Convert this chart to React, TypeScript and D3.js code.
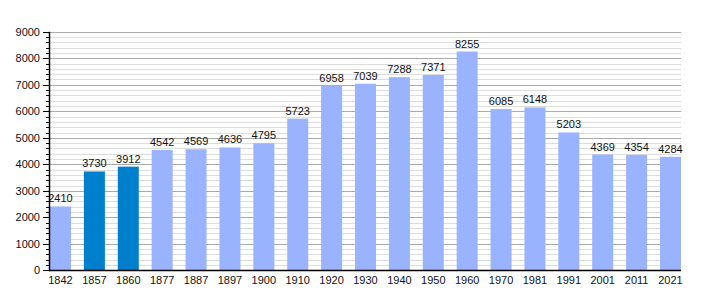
import React from "react";
import * as d3 from "d3";

const years = ["1842","1857","1860","1877","1887","1897","1900","1910","1920","1930","1940","1950","1960","1970","1981","1991","2001","2011","2021"];
const populations = [2410,3730,3912,4542,4569,4636,4795,5723,6958,7039,7288,7371,8255,6085,6148,5203,4369,4354,4284];
const highlighted = ["1857","1860"];
const yTicks = [0,1000,2000,3000,4000,5000,6000,7000,8000,9000];

const W = 710, H = 300;
const left = 49, right = 681, top = 31.8, bottom = 270.3;

export default function App() {
  const x = d3.scaleBand<string>().domain(years).range([left + 1, right]).paddingInner(0.38).paddingOuter(0);
  const y = d3.scaleLinear().domain([0, 9000]).range([bottom, top]);
  const minor = d3.range(0, 9001, 200).filter((v) => v % 1000 !== 0);
  const font = "'Liberation Sans', Arial, sans-serif";
  return (
    <svg width={W} height={H} style={{ position: "absolute", left: 0, top: 0, background: "#fff" }} fontFamily={font}>
      {minor.map((v) => (
        <line key={"mg" + v} x1={left} x2={right} y1={Math.round(y(v)) + 0.5} y2={Math.round(y(v)) + 0.5} stroke="#dddddd" strokeWidth={1} />
      ))}
      {yTicks.map((v) => (
        <line key={"Mg" + v} x1={left} x2={right} y1={Math.round(y(v)) + 0.5} y2={Math.round(y(v)) + 0.5} stroke="#aaaaaa" strokeWidth={1} />
      ))}
      {years.map((yr, i) => (
        <rect key={yr} x={x(yr)} width={x.bandwidth()} y={y(populations[i])} height={bottom - y(populations[i])}
          fill={highlighted.includes(yr) ? "#0080cc" : "#99b3ff"} />
      ))}
      {years.map((yr, i) => (
        <text key={"l" + yr} x={(x(yr) ?? 0) + x.bandwidth() / 2} y={y(populations[i]) - 4} textAnchor="middle" fontSize={11} fill="#111">
          {populations[i]}
        </text>
      ))}
      <line x1={left + 0.5} x2={left + 0.5} y1={top} y2={bottom + 1} stroke="#000" strokeWidth={1.5} />
      <line x1={left} x2={right} y1={Math.round(bottom) + 0.5} y2={Math.round(bottom) + 0.5} stroke="#000" strokeWidth={1.5} />
      {minor.map((v) => (
        <line key={"mt" + v} x1={left - 3} x2={left} y1={Math.round(y(v)) + 0.5} y2={Math.round(y(v)) + 0.5} stroke="#000" strokeWidth={1} />
      ))}
      {yTicks.map((v) => (
        <g key={"yt" + v}>
          <line x1={left - 6} x2={left} y1={Math.round(y(v)) + 0.5} y2={Math.round(y(v)) + 0.5} stroke="#000" strokeWidth={1} />
          <text x={left - 9} y={y(v) + 4} textAnchor="end" fontSize={11} fill="#111">{v}</text>
        </g>
      ))}
      {years.map((yr) => (
        <text key={"x" + yr} x={(x(yr) ?? 0) + x.bandwidth() / 2} y={bottom + 14} textAnchor="middle" fontSize={11} fill="#111">
          {yr}
        </text>
      ))}
    </svg>
  );
}
